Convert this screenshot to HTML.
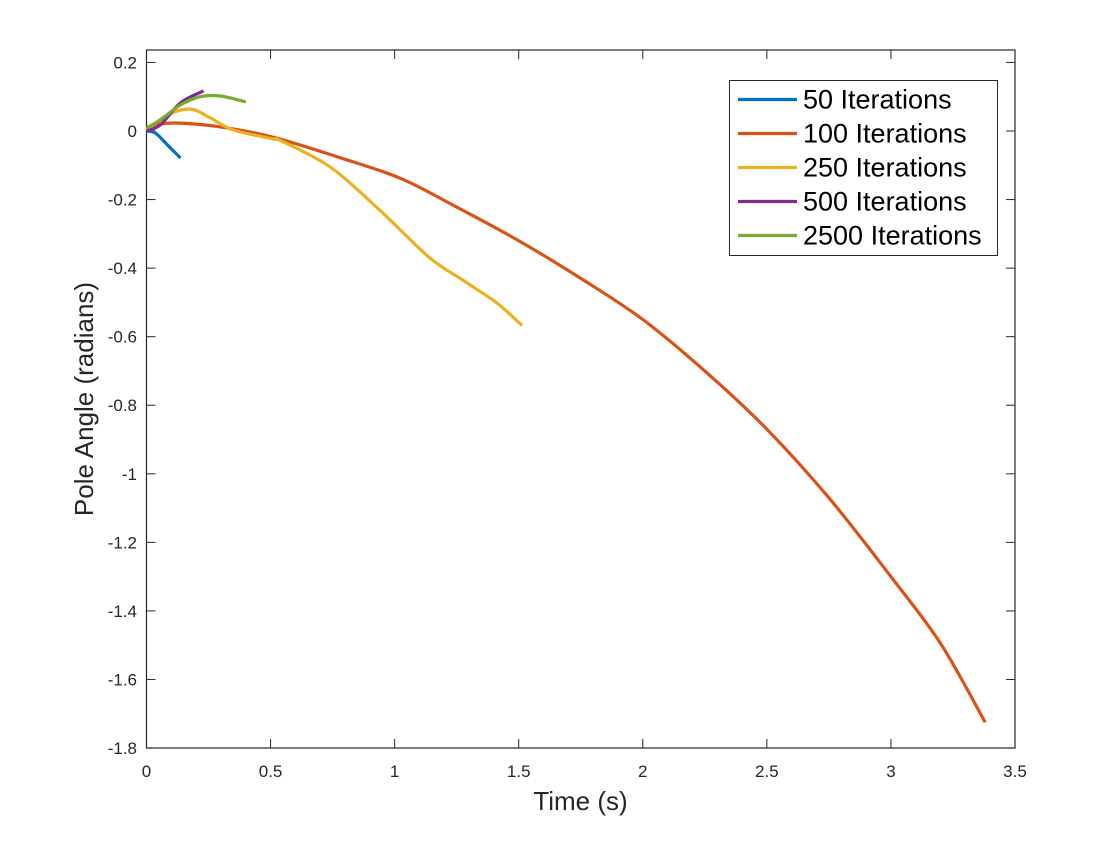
<!DOCTYPE html>
<html><head><meta charset="utf-8"><style>
html,body{margin:0;padding:0;background:#fff;}
svg text{font-family:"Liberation Sans",Helvetica,Arial,sans-serif;}
</style></head><body>
<svg id="chart" width="1120" height="840" xmlns="http://www.w3.org/2000/svg">
<rect x="0" y="0" width="1120" height="840" fill="#fff"/>
<g id="plot"></g>
</svg>
<script>
const xTicks=[0,0.5,1,1.5,2,2.5,3,3.5];
const xTickLabels=["0","0.5","1","1.5","2","2.5","3","3.5"];
const yTicks=[0.2,0,-0.2,-0.4,-0.6,-0.8,-1,-1.2,-1.4,-1.6,-1.8];
const yTickLabels=["0.2","0","-0.2","-0.4","-0.6","-0.8","-1","-1.2","-1.4","-1.6","-1.8"];
const seriesNames=["50 Iterations","100 Iterations","250 Iterations","500 Iterations","2500 Iterations"];
const seriesColors=["#0072BD","#D95319","#EDB120","#7E2F8E","#77AC30"];
const t50=[0,0.036,0.085,0.137];
const v50=[0,-0.006,-0.041,-0.079];
const t100=[0,0.056,0.137,0.298,0.51,0.78,1.023,1.25,1.5,1.75,2,2.25,2.5,2.75,3,3.2,3.38];
const v100=[0.003,0.02,0.023,0.012,-0.018,-0.078,-0.138,-0.222,-0.32,-0.43,-0.55,-0.7,-0.87,-1.07,-1.3,-1.495,-1.725];
const t250=[0,0.085,0.177,0.258,0.35,0.51,0.54,0.74,0.94,1.14,1.277,1.414,1.514];
const v250=[0.003,0.047,0.064,0.038,0.003,-0.023,-0.028,-0.105,-0.231,-0.369,-0.436,-0.503,-0.568];
const t500=[0,0.056,0.137,0.23];
const v500=[0,0.018,0.082,0.117];
const t2500=[0,0.056,0.137,0.217,0.298,0.4];
const v2500=[0.009,0.032,0.076,0.1,0.102,0.085];
const seriesT=[t50,t100,t250,t500,t2500];
const seriesV=[v50,v100,v250,v500,v2500];

const L=146.5,R=1015,T=50,B=748;
const xMin=0,xMax=3.5,y0px=131,yScale=342.8;
const sx=v=>L+(v-xMin)/(xMax-xMin)*(R-L);
const sy=v=>y0px-v*yScale;
const NS="http://www.w3.org/2000/svg";
const g=document.getElementById('plot');
function mk(tag,attrs){const e=document.createElementNS(NS,tag);for(const k in attrs)e.setAttribute(k,attrs[k]);g.appendChild(e);return e;}
function smooth(pts){
  let d='M'+pts[0][0].toFixed(1)+' '+pts[0][1].toFixed(1);
  for(let i=0;i<pts.length-1;i++){
    const p0=pts[Math.max(0,i-1)],p1=pts[i],p2=pts[i+1],p3=pts[Math.min(pts.length-1,i+2)];
    const c1x=p1[0]+(p2[0]-p0[0])/6,c1y=p1[1]+(p2[1]-p0[1])/6;
    const c2x=p2[0]-(p3[0]-p1[0])/6,c2y=p2[1]-(p3[1]-p1[1])/6;
    d+=' C'+c1x.toFixed(1)+' '+c1y.toFixed(1)+' '+c2x.toFixed(1)+' '+c2y.toFixed(1)+' '+p2[0].toFixed(1)+' '+p2[1].toFixed(1);
  }
  return d;
}

const box=mk('rect',{x:L,y:T,width:R-L,height:B-T,fill:'none',stroke:'#262626','stroke-width':1.2});



xTicks.forEach((v,i)=>{
  const x=sx(v);
  const a=mk('line',{x1:x,x2:x,y1:B,y2:B-9,stroke:'#262626','stroke-width':1});
  
  
  const b=mk('line',{x1:x,x2:x,y1:T,y2:T+9,stroke:'#262626','stroke-width':1});
  
  
  const t=mk('text',{x:x,y:777,'text-anchor':'middle','font-size':17,fill:'#262626'});
  t.textContent=xTickLabels[i];
  
  
});
yTicks.forEach((v,i)=>{
  const y=sy(v);
  const a=mk('line',{x1:L,x2:L+9,y1:y,y2:y,stroke:'#262626','stroke-width':1});
  
  
  const b=mk('line',{x1:R,x2:R-9,y1:y,y2:y,stroke:'#262626','stroke-width':1});
  
  
  const t=mk('text',{x:137,y:y+6,'text-anchor':'end','font-size':17,fill:'#262626'});
  t.textContent=yTickLabels[i];
  
  
});

seriesT.forEach((ts,s)=>{
  const pts=ts.map((t,i)=>[sx(t),sy(seriesV[s][i])]);
  const p=mk('path',{d:smooth(pts),fill:'none',stroke:seriesColors[s],'stroke-width':3.2,'stroke-linejoin':'round','stroke-linecap':'butt'});
  
  
});

const xt=mk('text',{x:580.5,y:810,'text-anchor':'middle','font-size':26,fill:'#262626'});
xt.textContent='Time (s)';


const yt=mk('text',{x:0,y:0,'text-anchor':'middle','font-size':26,fill:'#262626',transform:'translate(93,399) rotate(-90)'});
yt.textContent='Pole Angle (radians)';



const lb=mk('rect',{x:729.5,y:80.5,width:268,height:175,fill:'#fff',stroke:'#262626','stroke-width':1});


const ly=[99.5,133.5,167.5,201.5,235.5];
seriesNames.forEach((n,i)=>{
  const l=mk('line',{x1:738,x2:797,y1:ly[i],y2:ly[i],stroke:seriesColors[i],'stroke-width':3.2});
  
  
  const t=mk('text',{x:803,y:ly[i]+9,'font-size':27,fill:'#000'});
  t.textContent=n;
  
  
});
</script>
</body></html>
